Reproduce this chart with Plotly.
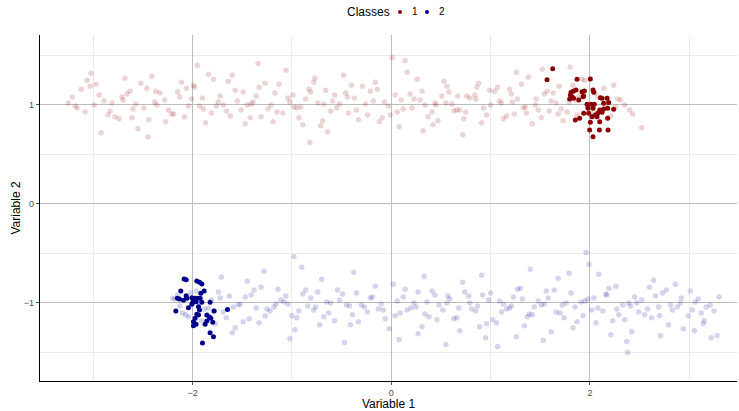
import plotly.graph_objects as go

# ---- solid class points ----
class1_x = [1.625, 1.568, 1.870, 2.004, 1.810, 1.836, 1.860, 1.920, 1.944, 1.937,
            2.031, 2.038, 1.820, 1.796, 1.836, 1.887, 1.930, 1.971, 2.011, 2.044,
            2.105, 2.122, 2.172, 1.981, 2.031, 2.098, 2.138, 2.178, 2.188, 2.239,
            2.078, 2.122, 2.054, 2.021, 1.987, 1.937, 1.896, 1.853, 2.004, 2.071,
            2.098, 2.178, 1.997, 2.095, 2.182, 2.031, 1.803, 2.138]
class1_y = [1.367, 1.256, 1.259, 1.263, 1.128, 1.141, 1.152, 1.135, 1.141, 1.091,
            1.152, 1.128, 1.084, 1.061, 1.067, 1.051, 1.084, 1.007, 1.007, 1.007,
            1.074, 1.067, 1.067, 0.966, 0.966, 0.949, 0.960, 0.966, 1.024, 0.956,
            0.916, 0.926, 0.899, 0.882, 0.916, 0.916, 0.866, 0.848, 0.825, 0.882,
            0.831, 0.866, 0.747, 0.747, 0.747, 0.680, 1.101, 1.017]

class2_x = [-2.085, -2.064, -1.957, -1.930, -1.906, -1.883, -1.916, -2.118, -2.152, -2.132,
            -2.064, -2.057, -2.091, -2.007, -1.991, -1.974, -1.997, -1.964, -1.923, -1.906,
            -2.041, -2.168, -1.940, -1.930, -1.957, -1.974, -1.991, -1.991, -1.964, -1.940,
            -1.856, -1.830, -1.816, -1.782, -1.796, -1.856, -1.873, -1.648, -1.823, -1.823,
            -1.789, -1.900, -1.951, -2.007]
class2_y = [-0.758, -0.765, -0.778, -0.791, -0.808, -0.879, -0.902, -0.879, -0.953, -0.960,
            -0.926, -0.953, -0.973, -0.946, -0.970, -0.953, -0.993, -0.987, -0.953, -0.993,
            -1.047, -1.081, -1.037, -1.071, -1.114, -1.155, -1.189, -1.229, -1.215, -1.121,
            -1.121, -1.141, -1.155, -1.081, -1.195, -1.182, -1.215, -1.067, -0.993, -1.300,
            -1.340, -1.404, -0.953, -1.013]

# ---- faint background clouds (representative sample) ----
cloud1_x = [-3.21, -3.08, -2.97, -2.81, -2.74, -2.63, -2.49, -2.41, -2.28, -2.19,
            -2.06, -1.93, -1.87, -1.72, -1.64, -1.51, -1.39, -1.31, -1.17, -1.06,
            -0.98, -0.86, -0.71, -0.66, -0.52, -0.43, -0.29, -0.18, -0.09, 0.04,
            0.12, 0.26, 0.34, 0.47, 0.58, 0.63, 0.79, 0.88, 0.96, 1.11,
            1.19, 1.33, 1.42, 1.54, 1.61, 1.77, 1.83, 1.97, 2.08, 2.21,
            -3.02, -2.55, -1.98, -1.45, -0.77, -0.12, 0.51, 1.04, 1.68, 2.31,
            -3.16, -3.03, -2.89, -2.78, -2.68, -2.57, -2.44, -2.33, -2.24, -2.11,
            -2.01, -1.95, -1.81, -1.69, -1.57, -1.47, -1.36, -1.24, -1.13, -1.02,
            -0.93, -0.81, -0.74, -0.61, -0.48, -0.37, -0.24, -0.14, -0.03, 0.08,
            0.19, 0.29, 0.41, 0.53, 0.61, 0.73, 0.84, 0.93, 1.07, 1.16,
            1.27, 1.38, 1.48, 1.57, 1.66, 1.73, 1.89, 2.02, 2.14, 2.26,
            -2.92, -2.37, -1.76, -1.19, -0.57, 0.01, 0.66, 1.22, 1.92, 2.43,
            -3.12, -2.99, -2.85, -2.71, -2.60, -2.52, -2.38, -2.27, -2.15, -2.04,
            -1.90, -1.79, -1.66, -1.55, -1.42, -1.33, -1.21, -1.09, -0.99, -0.89,
            -0.78, -0.68, -0.55, -0.44, -0.33, -0.21, -0.07, 0.06, 0.16, 0.23,
            0.37, 0.44, 0.56, 0.69, 0.76, 0.91, 0.99, 1.09, 1.24, 1.31,
            1.45, 1.51, 1.63, 1.71, 1.86, 1.95, 2.11, 2.18, 2.35, 2.52,
            -3.25, -2.66, -2.08, -1.60, -0.95, -0.40, 0.32, 0.85, 1.36, 1.80,
            -3.18, -3.06, -2.94, -2.83, -2.70, -2.61, -2.46, -2.36, -2.21, -2.13,
            -1.99, -1.89, -1.74, -1.62, -1.49, -1.41, -1.27, -1.15, -1.04, -0.91,
            -0.83, -0.69, -0.59, -0.46, -0.35, -0.26, -0.16, -0.01, 0.10, 0.21,
            0.31, 0.42, 0.55, 0.67, 0.75, 0.86, 1.00, 1.13, 1.21, 1.35,
            1.46, 1.59, 1.69, 1.79, 1.87, 2.05, 2.16, 2.28, 2.40, -2.45,
            -1.84, -1.34, -0.64, 0.14, 0.72, 1.26, 1.52, 2.24, -0.82, 0.45]
cloud1_y = [1.08, 0.93, 1.21, 1.02, 0.86, 1.14, 0.97, 1.29, 1.05, 0.91,
            1.17, 0.99, 0.82, 1.09, 1.24, 0.95, 1.03, 0.88, 1.12, 1.35,
            0.98, 1.06, 0.79, 1.15, 1.01, 0.92, 1.19, 1.04, 0.87, 1.10,
            0.96, 1.26, 1.00, 0.84, 1.13, 0.94, 1.07, 1.22, 0.90, 1.02,
            1.16, 0.97, 0.81, 1.11, 1.04, 0.93, 1.20, 0.99, 1.08, 0.89,
            1.32, 0.76, 1.18, 1.00, 1.27, 0.83, 1.09, 1.14, 0.91, 1.05,
            0.97, 1.19, 1.04, 0.88, 1.27, 1.01, 0.85, 1.12, 0.95, 1.23,
            1.06, 1.40, 0.92, 1.00, 1.15, 0.81, 1.09, 0.96, 1.21, 1.03,
            0.87, 1.13, 1.02, 0.94, 1.30, 1.07, 0.90, 1.16, 0.99, 0.78,
            1.11, 1.05, 0.93, 1.24, 1.01, 0.86, 1.10, 0.97, 1.18, 0.89,
            1.06, 1.28, 0.95, 1.14, 1.02, 0.84, 1.09, 0.92, 1.17, 0.98,
            0.72, 1.14, 0.99, 0.83, 1.10, 1.48, 0.95, 1.03, 1.26, 0.91,
            1.16, 1.00, 0.90, 1.08, 0.96, 1.22, 1.03, 0.83, 1.13, 0.99,
            1.07, 1.26, 0.94, 1.04, 0.87, 1.18, 1.00, 0.92, 1.10, 0.80,
            1.23, 1.01, 0.97, 1.08, 0.85, 1.14, 1.03, 0.93, 1.33, 1.06,
            0.88, 1.02, 1.19, 0.95, 1.09, 0.82, 1.15, 1.04, 0.91, 1.21,
            1.00, 0.87, 1.12, 0.96, 1.05, 1.25, 0.94, 1.07, 1.00, 0.77,
            1.02, 1.11, 0.88, 1.30, 0.97, 1.20, 0.74, 1.06, 0.92, 1.38,
            0.99, 1.25, 1.10, 0.94, 1.05, 0.87, 1.17, 1.00, 0.91, 1.08,
            1.20, 0.96, 1.03, 0.89, 1.13, 1.01, 1.22, 0.93, 1.07, 0.98,
            1.16, 0.84, 1.04, 1.12, 0.95, 1.01, 1.23, 0.90, 1.05, 0.97,
            1.14, 0.80, 1.02, 1.09, 0.93, 1.18, 1.00, 0.86, 1.11, 0.98,
            1.06, 0.94, 1.19, 1.03, 0.90, 1.12, 0.99, 1.06, 0.95, 0.68,
            1.31, 1.42, 0.73, 1.45, 0.70, 1.33, 1.36, 1.20, 0.62, 1.00]

cloud2_x = [-2.18, -2.07, -1.96, -1.84, -1.77, -1.63, -1.52, -1.43, -1.31, -1.22,
            -1.08, -0.97, -0.89, -0.76, -0.68, -0.54, -0.45, -0.33, -0.21, -0.13,
            0.02, 0.09, 0.23, 0.31, 0.44, 0.52, 0.66, 0.74, 0.87, 0.98,
            1.06, 1.19, 1.27, 1.39, 1.48, 1.61, 1.72, 1.81, 1.93, 2.04,
            2.13, 2.26, 2.35, 2.47, 2.58, 2.66, 2.79, 2.88, 3.01, 3.12,
            -1.71, -1.02, -0.38, 0.27, 0.91, 1.53, 2.09, 2.71, 3.21, 3.30,
            -2.13, -2.02, -1.91, -1.81, -1.69, -1.57, -1.47, -1.36, -1.27, -1.14,
            -1.04, -0.93, -0.81, -0.72, -0.61, -0.49, -0.39, -0.27, -0.16, -0.06,
            0.06, 0.16, 0.27, 0.38, 0.48, 0.59, 0.69, 0.81, 0.92, 1.02,
            1.13, 1.23, 1.34, 1.44, 1.56, 1.66, 1.76, 1.87, 1.98, 2.08,
            2.19, 2.29, 2.41, 2.52, 2.62, 2.73, 2.83, 2.94, 3.06, 3.17,
            -0.98, 1.96, 1.99, 2.37, 2.38, 3.28, 3.22, -1.45, 0.55, 1.40,
            -2.10, -1.99, -1.88, -1.74, -1.66, -1.54, -1.41, -1.33, -1.18, -1.11,
            -1.00, -0.86, -0.78, -0.65, -0.57, -0.42, -0.35, -0.24, -0.10, -0.02,
            0.12, 0.20, 0.34, 0.41, 0.56, 0.63, 0.78, 0.85, 0.96, 1.09,
            1.16, 1.30, 1.37, 1.51, 1.58, 1.70, 1.83, 1.91, 2.02, 2.16,
            2.23, 2.33, 2.45, 2.55, 2.69, 2.77, 2.91, 2.99, 3.09, 3.25,
            -1.60, -0.70, 0.08, 0.72, 1.26, 1.79, 2.42, 2.86, 3.14, -2.20,
            -2.15, -2.04, -1.93, -1.79, -1.72, -1.59, -1.49, -1.38, -1.25, -1.16,
            -1.06, -0.95, -0.84, -0.74, -0.63, -0.52, -0.41, -0.30, -0.19, -0.08,
            0.04, 0.14, 0.25, 0.36, 0.46, 0.57, 0.68, 0.79, 0.89, 1.00,
            1.11, 1.21, 1.32, 1.42, 1.54, 1.64, 1.74, 1.85, 1.95, 2.06,
            2.17, 2.27, 2.39, 2.49, 2.60, 2.70, 2.81, 2.92, 3.03, 3.15,
            -1.28, -0.47, 0.33, 1.07, 1.68, 2.21, 2.64, 3.05, -0.90, 0.95]
cloud2_y = [-0.96, -1.12, -0.88, -1.05, -1.21, -0.93, -1.01, -1.16, -0.84, -1.08,
            -0.99, -1.27, -0.91, -1.04, -1.14, -0.87, -1.02, -1.19, -0.95, -1.06,
            -0.81, -1.10, -1.00, -1.24, -0.92, -1.07, -1.15, -0.89, -1.03, -0.97,
            -1.20, -1.05, -0.86, -1.11, -0.98, -1.29, -1.02, -0.90, -1.13, -0.95,
            -1.08, -0.83, -1.17, -1.00, -1.06, -0.93, -1.22, -1.04, -0.88, -1.10,
            -0.74, -1.36, -0.69, -1.31, -0.72, -1.38, -0.71, -1.33, -1.02, -0.94,
            -1.03, -0.90, -1.18, -0.97, -1.09, -1.25, -0.94, -1.05, -1.13, -0.86,
            -1.01, -1.08, -0.95, -1.22, -1.00, -0.91, -1.12, -1.04, -0.83, -1.16,
            -0.98, -1.07, -0.89, -1.14, -1.02, -0.96, -1.28, -1.06, -0.92, -1.17,
            -1.01, -0.94, -1.23, -1.04, -0.88, -1.09, -1.00, -1.19, -0.96, -1.05,
            -0.85, -1.12, -1.03, -0.97, -1.15, -0.90, -1.07, -1.26, -0.99, -1.04,
            -0.53, -0.49, -0.61, -1.39, -1.50, -1.33, -1.35, -0.78, -1.42, -0.66,
            -1.10, -0.99, -1.06, -0.89, -1.15, -1.02, -0.92, -1.20, -1.04, -0.97,
            -1.13, -0.87, -1.07, -0.99, -1.18, -1.03, -0.90, -1.09, -1.01, -1.26,
            -0.94, -1.05, -1.11, -0.88, -1.00, -1.16, -0.93, -1.08, -1.21, -0.98,
            -1.06, -0.85, -1.14, -1.02, -0.95, -1.10, -1.25, -0.99, -1.07, -0.91,
            -1.18, -1.02, -0.94, -1.12, -1.04, -0.87, -1.00, -1.13, -0.96, -1.08,
            -1.30, -0.76, -1.37, -0.79, -1.34, -0.70, -1.29, -0.81, -1.21, -0.95,
            -0.92, -1.14, -1.00, -1.08, -0.95, -1.04, -1.19, -0.87, -1.06, -1.01,
            -0.93, -1.15, -1.03, -0.89, -1.10, -0.97, -1.22, -1.02, -0.94, -1.07,
            -1.13, -0.86, -1.04, -0.99, -1.17, -0.93, -1.05, -1.00, -1.24, -0.90,
            -1.09, -1.03, -0.96, -1.12, -1.01, -0.87, -1.15, -1.04, -0.98, -1.20,
            -0.92, -1.06, -1.00, -1.09, -0.84, -1.13, -1.02, -0.95, -1.07, -1.18,
            -0.68, -1.40, -0.73, -1.44, -0.75, -1.32, -0.77, -1.28, -0.64, -1.35]

legend_title = "Classes"
class_names = ["1", "2"]
class_colors = ["#8B0000", "#00008B"]

def pairs(xs, ys):
    n = min(len(xs), len(ys))
    return xs[:n], ys[:n]

fig = go.Figure()

for (cx, cy), col in zip([pairs(cloud1_x, cloud1_y), pairs(cloud2_x, cloud2_y)], class_colors):
    fig.add_trace(go.Scatter(x=cx, y=cy, mode="markers", showlegend=False, hoverinfo="skip",
                             marker=dict(color=col, size=5.5, opacity=0.17, line=dict(width=0))))

for (cx, cy), col, name in zip([pairs(class1_x, class1_y), pairs(class2_x, class2_y)],
                               class_colors, class_names):
    fig.add_trace(go.Scatter(x=cx, y=cy, mode="markers", name=name, showlegend=False,
                             marker=dict(color=col, size=5, line=dict(width=0))))

font = "Liberation Sans, Arial, sans-serif"
axis_common = dict(
    showgrid=True, gridcolor="#bdbdbd", gridwidth=1,
    zeroline=False, showline=True, linecolor="black", linewidth=1.3,
    ticks="outside", ticklen=3, tickcolor="#555555",
    tickfont=dict(family=font, size=9, color="#4d4d4d"),
    mirror=False, automargin=False,
)

# compact ggplot-style legend at the top (paper coordinates of the plot area)
leg_y = 1.0665
annotations = [dict(text=legend_title, x=0.505, y=leg_y, xref="paper", yref="paper",
                    xanchor="right", yanchor="middle", showarrow=False,
                    font=dict(size=12, family=font, color="black"))]
shapes = []
dot_x = [0.5165, 0.5552]
lab_x = [0.5305, 0.5695]
for dx, lx, name, col in zip(dot_x, lab_x, class_names, class_colors):
    shapes.append(dict(type="circle", xref="paper", yref="paper",
                       xsizemode="pixel", ysizemode="pixel", xanchor=dx, yanchor=leg_y,
                       x0=-2, x1=2, y0=-2, y1=2, fillcolor=col, line=dict(width=0)))
    annotations.append(dict(text=name, x=lx, y=leg_y, xref="paper", yref="paper",
                            xanchor="left", yanchor="middle", showarrow=False,
                            font=dict(size=10, family=font, color="black")))

fig.update_layout(
    width=739, height=411,
    margin=dict(l=40, r=2, t=35, b=30),
    paper_bgcolor="white", plot_bgcolor="white",
    font=dict(family=font, color="black"),
    showlegend=False,
    xaxis=dict(range=[-3.535, 3.48], tickmode="linear", tick0=0, dtick=2,
               minor=dict(dtick=1, tick0=0, showgrid=True, gridcolor="#ebebeb", ticks=""),
               title=dict(text="Variable 1", font=dict(size=12), standoff=2),
               **axis_common),
    yaxis=dict(range=[-1.788, 1.707], tickmode="linear", tick0=0, dtick=1,
               minor=dict(dtick=0.5, tick0=0, showgrid=True, gridcolor="#ebebeb", ticks=""),
               title=dict(text="Variable 2", font=dict(size=12), standoff=0),
               **axis_common),
    annotations=annotations,
    shapes=shapes,
)

fig.write_html("out.html", config={"displayModeBar": False},
               post_script="document.body.style.margin='0';document.body.style.padding='0';")
